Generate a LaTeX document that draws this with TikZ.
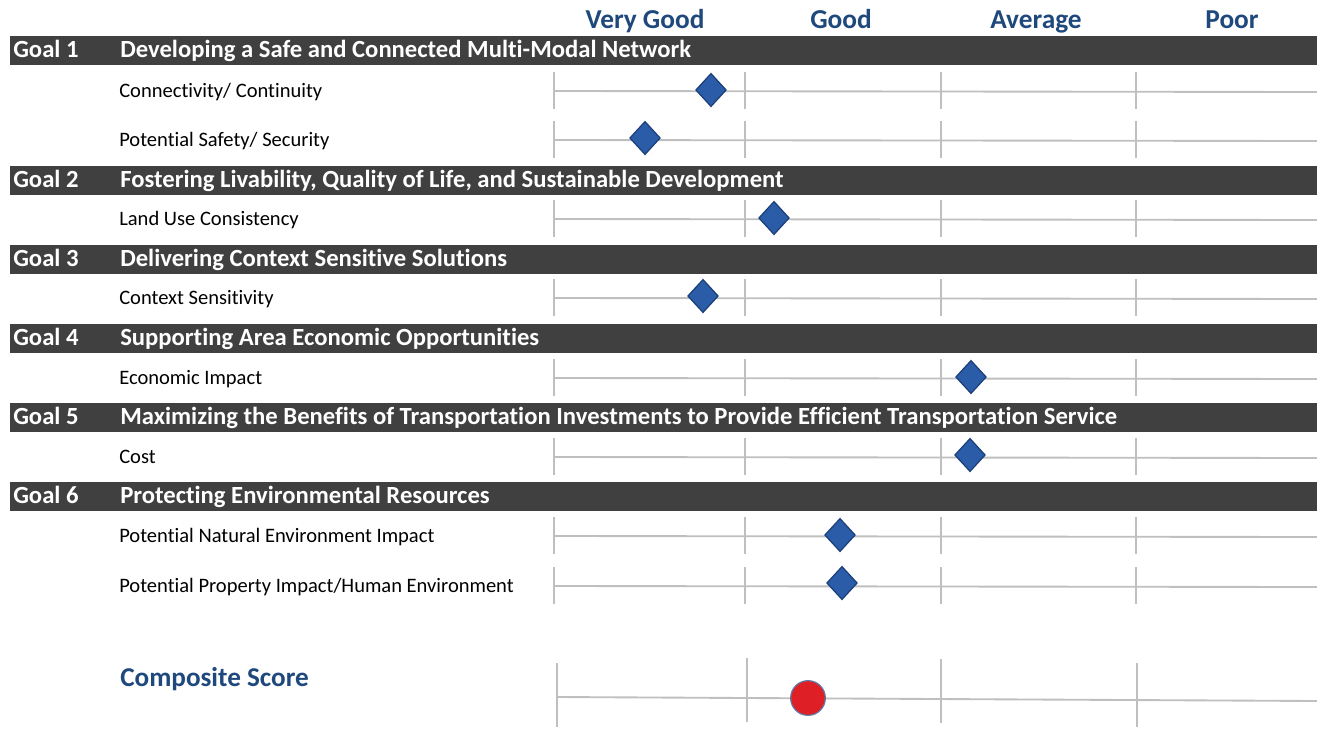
\documentclass[tikz,border=0pt]{standalone}
\usepackage{fontspec}
\setmainfont{Carlito}[Ligatures=NoCommon]
\usetikzlibrary{shapes.geometric}
\definecolor{hdr}{RGB}{31,73,125}
\definecolor{barc}{RGB}{64,64,64}
\definecolor{axisc}{RGB}{191,191,191}
\definecolor{dia}{RGB}{42,92,168}
\definecolor{diaedge}{RGB}{28,62,120}
\definecolor{dotc}{RGB}{222,32,38}
\begin{document}
\begin{tikzpicture}[x=0.75pt,y=-0.75pt,
  barbox/.style={fill=barc,draw=none},
  goaltxt/.style={anchor=base west,text=white,font=\fontsize{18.5}{22}\selectfont\bfseries,inner sep=0pt},
  crit/.style={anchor=base west,font=\fontsize{15.4}{18}\selectfont,inner sep=0pt},
  rating/.style={anchor=base,text=hdr,font=\fontsize{20.5}{24}\selectfont\bfseries,inner sep=0pt},
  axisline/.style={draw=axisc,line width=1.4pt},
  dmd/.style={diamond,aspect=1,fill=dia,draw=diaedge,line width=0.9pt,inner sep=0pt,minimum width=23pt,minimum height=25pt},
  dotmark/.style={circle,fill=dotc,draw=diaedge!70,line width=0.9pt,inner sep=0pt,minimum size=26pt}
]
\useasboundingbox (0,0) rectangle (1317,736);
% rating headers
\node[rating] (vg) at (645,28) {Very Good};
\node[rating] (gd) at (841,28) {Good};
\node[rating] (av) at (1036,28) {Average};
\node[rating] (pr) at (1232,28) {Poor};
% goal bars
\foreach \y/\n/\t [count=\i] in {
  50/1/{Developing a Safe and Connected Multi-Modal Network},
  180/2/{Fostering Livability, Quality of Life, and Sustainable Development},
  259/3/{Delivering Context Sensitive Solutions},
  338/4/{Supporting Area Economic Opportunities},
  417/5/{Maximizing the Benefits of Transportation Investments to Provide Efficient Transportation Service},
  496/6/{Protecting Environmental Resources}} {
  \fill[barbox] (10,\y-14.5) rectangle (1317,\y+14.5);
  \node[goaltxt] (g\i) at (13,\y+7) {Goal \n};
  \node[goaltxt] (gt\i) at (120,\y+7) {\t};
}
% criteria rows
\foreach \y/\t/\dx/\dy [count=\i] in {
  91/{Connectivity/ Continuity}/711/90,
  140/{Potential Safety/ Security}/645/138,
  219/{Land Use Consistency}/774/218,
  298/{Context Sensitivity}/703/296,
  378/{Economic Impact}/971/377,
  457/{Cost}/970/455,
  536/{Potential Natural Environment Impact}/840/535,
  586/{Potential Property Impact/Human Environment}/842/583} {
  \node[crit] (c\i) at (119,\y+6) {\t};
  \coordinate (ls\i) at (554,\y);
  \coordinate (le\i) at (1317,\y+1);
  \draw[axisline] (ls\i) -- (le\i);
  \foreach \tx in {554,745,941,1136} {
    \draw[axisline] (\tx,\y-19) -- (\tx,\y+18);
  }
  \node[dmd] (d\i) at (\dx,\dy) {};
}
% composite score
\node[anchor=base west,text=hdr,font=\fontsize{20.4}{24}\selectfont\bfseries,inner sep=0pt] (comp) at (120,686) {Composite Score};
\coordinate (cs) at (557,697);
\coordinate (ce) at (1317,701);
\draw[axisline] (cs) -- (ce);
\foreach \tx/\a/\b in {557/663/727,747/658/722,941/659/723,1137/663/727} {
  \draw[axisline] (\tx,\a) -- (\tx,\b);
}
\node[dotmark] (score) at (808,698) {};
\end{tikzpicture}
\end{document}
